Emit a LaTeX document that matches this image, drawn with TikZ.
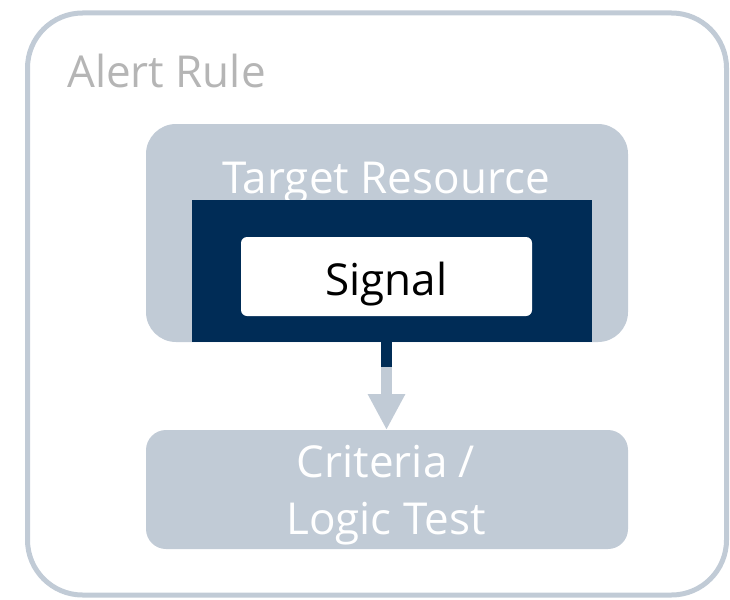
\documentclass[tikz,border=0pt]{standalone}
\usepackage{fontspec}
\setmainfont{Open Sans}
\usetikzlibrary{arrows.meta}
\definecolor{rulegray}{HTML}{C1CBD6}
\definecolor{navy}{HTML}{002C56}
\definecolor{labelgray}{HTML}{B5B5B5}
\tikzset{
	box/.style={fill=rulegray,inner sep=0pt,outer sep=0pt},
	txt/.style={inner sep=0pt,anchor=base,font=\fontsize{44}{57}\selectfont}
}

\begin{document}
\begin{tikzpicture}[x=1pt,y=-1pt]
			\useasboundingbox (0,0) rectangle (730,599);
			% 外框
			\node[draw=rulegray,line width=5pt,rounded corners=55pt,minimum width=699pt,minimum height=582pt,inner sep=0pt] (rule) at (377,304) {};
			\node[txt,anchor=base west,text=labelgray] (ruletitle) at (67,88) {Alert Rule};
			% 目标资源
			\node[box,rounded corners=30pt,minimum width=482pt,minimum height=218pt] (target) at (387,233) {};
			\node[txt,text=white] (targettitle) at (386,193) {Target Resource};
			\node[fill=navy,inner sep=0pt,minimum width=400pt,minimum height=142pt] (source) at (392,271) {};
			\node[fill=white,rounded corners=6pt,inner sep=0pt,minimum width=291pt,minimum height=79pt] (signal) at (386.5,276.5) {};
			\node[txt,text=black] (signaltext) at (386.5,295) {Signal};
			% 条件
			\node[box,rounded corners=20pt,minimum width=482pt,minimum height=119pt] (criteria) at (387,489.5) {};
			\node[txt,text=white] (criteria1) at (386,477) {Criteria /};
			\node[txt,text=white] (criteria2) at (386,534) {Logic Test};
			% 箭头
			\coordinate (stemtop) at (386.5,342);
			\coordinate (stemmid) at (386.5,367);
			\draw[navy,line width=11pt] (stemtop) -- (stemmid);
			\draw[rulegray,line width=11pt,-{Triangle[width=35pt,length=36pt]}] (stemmid) -- (criteria.north -| stemmid);
		\end{tikzpicture}
\end{document}
